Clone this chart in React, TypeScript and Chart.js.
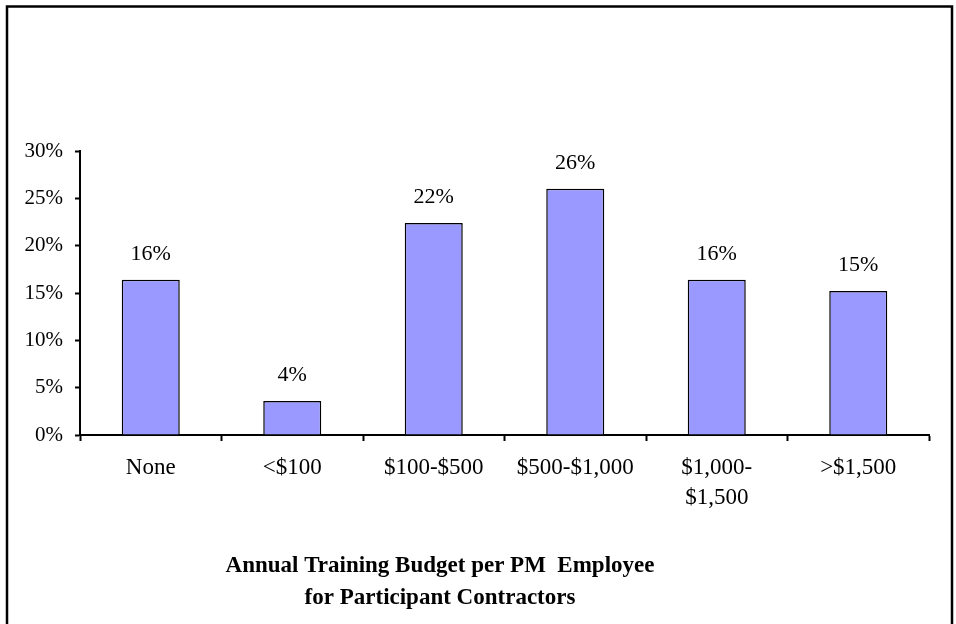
import React, { useEffect, useRef } from "react";
import { Chart, registerables } from "chart.js";

Chart.register(...registerables);

const categories: (string | string[])[] = [
  "None",
  "<$100",
  "$100-$500",
  "$500-$1,000",
  ["$1,000-", "$1,500"],
  ">$1,500",
];
const shares: number[] = [16.4, 3.6, 22.4, 26.0, 16.4, 15.2];
const titleLines: string[] = [
  "Annual Training Budget per PM  Employee",
  "for Participant Contractors",
];
const FONT = "'Liberation Serif', 'Times New Roman', serif";

export default function App() {
  const ref = useRef<HTMLCanvasElement | null>(null);

  useEffect(() => {
    if (!ref.current) return;
    const frame = {
      id: "frame",
      afterDraw(chart: any) {
        const ctx = chart.ctx;
        ctx.save();
        ctx.strokeStyle = "#000";
        ctx.lineWidth = 2.5;
        ctx.strokeRect(7, 6.5, 945, 640);
        ctx.restore();
      },
    };
    const labels = {
      id: "valueLabels",
      afterDatasetsDraw(chart: any) {
        const ctx = chart.ctx;
        const meta = chart.getDatasetMeta(0);
        ctx.save();
        ctx.fillStyle = "#000";
        ctx.font = `22px ${FONT}`;
        ctx.textAlign = "center";
        ctx.textBaseline = "middle";
        meta.data.forEach((bar: any, i: number) => {
          ctx.fillText(Math.round(shares[i]) + "%", bar.x, bar.y - 26);
        });
        ctx.restore();
      },
    };
    const title = {
      id: "bottomTitle",
      afterDraw(chart: any) {
        const ctx = chart.ctx;
        ctx.save();
        ctx.fillStyle = "#000";
        ctx.font = `bold 23px ${FONT}`;
        ctx.textAlign = "center";
        ctx.textBaseline = "alphabetic";
        titleLines.forEach((t, i) => ctx.fillText(t, 440, 572 + i * 31.5));
        ctx.restore();
      },
    };
    const chart = new Chart(ref.current, {
      type: "bar",
      data: {
        labels: categories,
        datasets: [
          {
            data: shares,
            backgroundColor: "#9999FF",
            borderColor: "#000",
            borderWidth: 1.5,
            categoryPercentage: 0.41,
            barPercentage: 1,
          },
        ],
      },
      options: {
        responsive: false,
        animation: false,
        layout: { padding: { top: 151, right: 27, bottom: 0, left: 0 } },
        plugins: {
          legend: { display: false },
          tooltip: { enabled: false },
          title: { display: false },
        },
        scales: {
          x: {
            afterFit: (s: any) => {
              s.height = 189;
            },
            grid: {
              offset: true,
              drawOnChartArea: false,
              drawTicks: true,
              tickLength: 6,
              tickWidth: 2,
              tickColor: "#000",
            },
            border: { display: true, color: "#000", width: 2 },
            ticks: {
              color: "#000",
              padding: 12,
              maxRotation: 0,
              autoSkip: false,
              font: { family: FONT, size: 23, lineHeight: "30px" },
            },
          },
          y: {
            min: 0,
            max: 30,
            afterFit: (s: any) => {
              s.width = 80;
            },
            grid: {
              drawOnChartArea: false,
              drawTicks: true,
              tickLength: 5,
              tickWidth: 2,
              tickColor: "#000",
            },
            border: { display: true, color: "#000", width: 2 },
            ticks: {
              stepSize: 5,
              color: "#000",
              padding: 12,
              font: { family: FONT, size: 21 },
              callback: (v: any) => v + "%",
            },
          },
        },
      },
      plugins: [labels, title, frame],
    });
    return () => chart.destroy();
  }, []);

  return (
    <div style={{ position: "fixed", left: 0, top: 0, width: 956, height: 624, background: "#fff" }}>
      <canvas ref={ref} width={956} height={624} style={{ display: "block" }} />
    </div>
  );
}
